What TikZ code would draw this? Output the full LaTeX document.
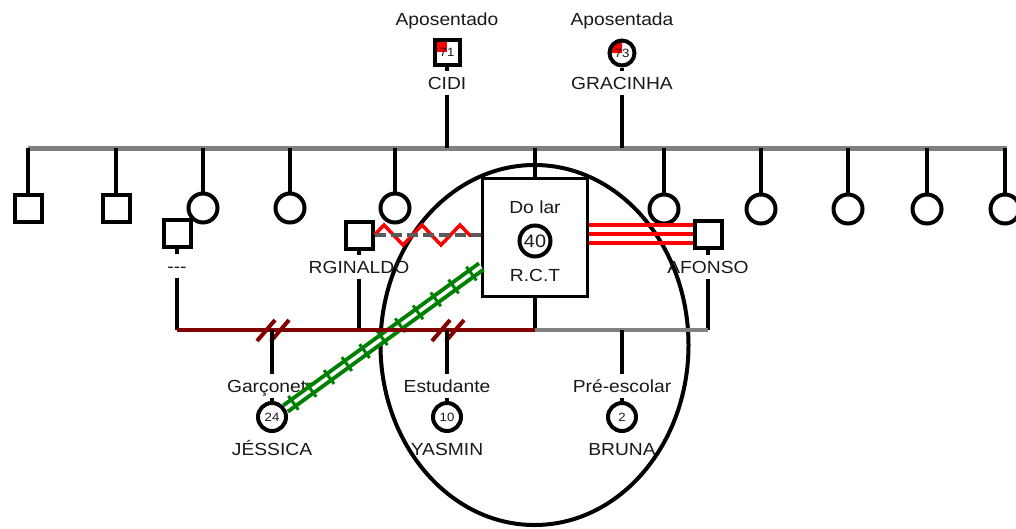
\documentclass[tikz,border=0pt]{standalone}
\usepackage{fontspec}
\setmainfont[FakeStretch=1.1,Ligatures=NoCommon]{Liberation Sans}
\usetikzlibrary{decorations.pathmorphing,decorations.markings,calc}
\definecolor{sibgray}{RGB}{128,128,128}
\definecolor{dashgray}{RGB}{90,90,90}
\definecolor{darkred}{RGB}{128,0,0}
\definecolor{grn}{RGB}{0,128,0}
\definecolor{txt}{RGB}{25,25,25}
\begin{document}
\begin{tikzpicture}[x=1pt,y=-1pt,
  male/.style={draw,line width=4pt,rectangle,minimum size=27pt,inner sep=0pt,fill=white},
  female/.style={draw,line width=4pt,circle,minimum size=29pt,inner sep=0pt,fill=white},
  lbl/.style={font=\fontsize{17.5}{20}\selectfont,text=txt,inner xsep=2pt,inner ysep=5pt,text height=13pt,text depth=1pt},
  num/.style={font=\fontsize{12}{13}\selectfont,text=txt},
  ln/.style={line width=4pt,draw=black},
  sibline/.style={line width=5pt,draw=sibgray},
  redunion/.style={line width=4.5pt,draw=darkred},
  grayunion/.style={line width=4.5pt,draw=sibgray},
  slashmark/.style={line width=4pt,draw=darkred},
]
\useasboundingbox (0,0) rectangle (1016,528);

% big ellipse
\draw[line width=4pt] (534.5,345) ellipse [x radius=154, y radius=180];

% grandparents
\node[lbl] (cidijob) at (447,19) {Aposentado};
\node[male,minimum size=25pt,
  path picture={\fill[red] (path picture bounding box.center) rectangle (path picture bounding box.north west);}]
  (cidi) at (447,52) {};
\node[num] at (cidi) {71};
\node[lbl] (cidiname) at (447,83) {CIDI};
\node[lbl] (gracjob) at (622,19) {Aposentada};
\node[female,minimum size=25pt,
  path picture={\fill[red] (path picture bounding box.center) -- (path picture bounding box.west) arc[start angle=180,end angle=90,radius=12.5pt] -- cycle;}]
  (grac) at (622,53) {};
\node[num] at (grac) {73};
\node[lbl] (gracname) at (622,83) {GRACINHA};

% sibling line
\coordinate (sl) at (28,148);
\coordinate (sr) at (1007,148);
\coordinate (p1) at (447,148);
\coordinate (p2) at (622,148);
\draw[sibline] (sl) -- (sr);
\draw[ln] (cidi.south) -- (cidiname.north);
\draw[ln] (cidiname.south) -- (p1);
\draw[ln] (grac.south) -- (gracname.north);
\draw[ln] (gracname.south) -- (p2);

% siblings
\node[male] (b1) at (28,208) {};
\node[male] (b2) at (116,208) {};
\node[female] (c3) at (203,208) {};
\node[female] (c4) at (290,208) {};
\node[female] (c5) at (395,208) {};
\node[female] (c7) at (664,209) {};
\node[female] (c8) at (761,209) {};
\node[female] (c9) at (848,209) {};
\node[female] (c10) at (927,209) {};
\node[female] (c11) at (1005,209) {};
\node[draw,line width=2.5pt,fill=white,minimum width=105pt,minimum height=118pt,inner sep=0pt] (rct) at (535,237.5) {};
\node[lbl] (rctjob) at (535,207) {Do lar};
\node[female,minimum size=31pt,font=\fontsize{18}{20}\selectfont,text=txt] (rctage) at (535,241) {40};
\node[lbl] (rctname) at (535,275) {R.C.T};
\foreach \n in {b1,b2,c3,c4,c5,rct,c7,c8,c9,c10,c11}
  \draw[ln] (\n |- sl) -- (\n.north);

% spouses
\node[male] (sp1) at (177,233) {};
\node[lbl] (sp1name) at (177,266) {-{}-{}-};
\node[male] (rgi) at (359,235) {};
\node[lbl] (rginame) at (359,267) {RGINALDO};
\node[male] (afo) at (708,234) {};
\node[lbl] (afoname) at (708,267) {AFONSO};

% relationships of R.C.T
\draw[red,line width=3.5pt,line join=miter,decorate,decoration={zigzag,segment length=38pt,amplitude=10pt}] (rgi.east) -- (rct.west |- rgi.east);
\draw[dashgray,line width=4pt,dash pattern=on 11pt off 5pt] (rgi.east) -- (rct.west |- rgi.east);
\foreach \d in {-9,0,9}
  \draw[red,line width=4pt,transform canvas={yshift=\d pt}] (rct.east |- afo.west) -- (afo.west);

% children
\node[lbl] (jesjob) at (272,386) {Garçonete};
\node[female,minimum size=28pt] (jes) at (272,417) {};
\node[num] at (jes) {24};
\node[lbl] (jesname) at (272,449) {JÉSSICA};
\node[lbl] (yasjob) at (447,386) {Estudante};
\node[female,minimum size=28pt] (yas) at (447,417) {};
\node[num] at (yas) {10};
\node[lbl] (yasname) at (447,449) {YASMIN};
\node[lbl] (brujob) at (622,386) {Pré-escolar};
\node[female,minimum size=28pt] (bru) at (622,417) {};
\node[num] at (bru) {2};
\node[lbl] (bruname) at (622,449) {BRUNA};

% green relationship
\coordinate (g2) at ($(rct.south west)!0.26!(rct.north west)$);
\draw[grn,line width=4pt,double=white,double distance=3.5pt] (jes.32) -- (g2);
\path[decorate,decoration={markings,mark=between positions 0.04 and 0.99 step 22pt with {\draw[grn,line width=3pt] (0,-8.5pt) -- (0,8.5pt);}}] (jes.32) -- (g2);

% union lines
\coordinate (u0) at (177,330);
\coordinate (u1) at (535,330);
\coordinate (u2) at (708,330);
\coordinate (m1) at (272,330);
\coordinate (m2) at (447,330);
\coordinate (m3) at (622,330);
\draw[ln] (sp1.south) -- (sp1name.north);
\draw[ln] (sp1name.south) -- (u0);
\draw[ln] (rgi.south) -- (rginame.north);
\draw[ln] (rginame.south) -- (rgi |- u0);
\draw[ln] (afo.south) -- (afoname.north);
\draw[ln] (afoname.south) -- (u2);
\draw[ln] (rct.south) -- (u1);
\draw[redunion] (u0) -- (u1);
\draw[grayunion] (u1) -- (u2);
\foreach \m in {m1,m2}
  \foreach \c in {-6,8}
    \draw[slashmark] ($(\m)+(\c-9,11)$) -- ($(\m)+(\c+9,-10)$);
\draw[ln] (m1) -- (jesjob.north);
\draw[ln] (jesjob.south) -- (jes.north);
\draw[ln] (m2) -- (yasjob.north);
\draw[ln] (yasjob.south) -- (yas.north);
\draw[ln] (m3) -- (brujob.north);
\draw[ln] (brujob.south) -- (bru.north);
\end{tikzpicture}
\end{document}
